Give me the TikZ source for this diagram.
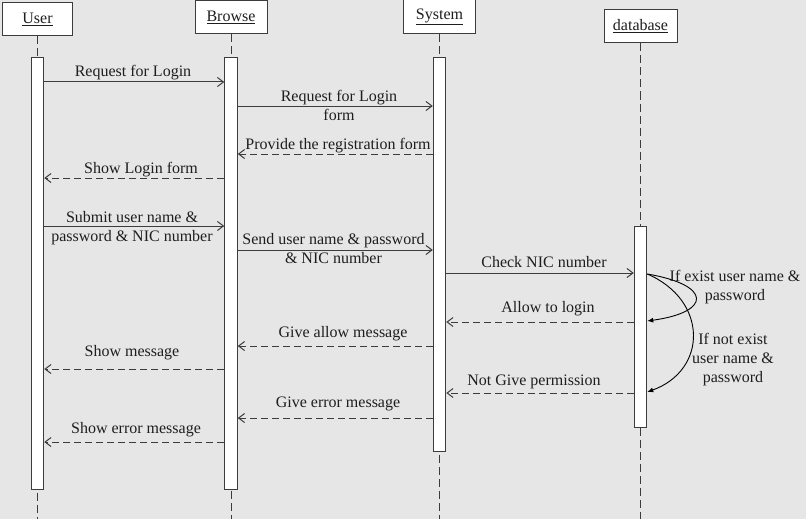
\documentclass[tikz,border=0pt]{standalone}
\usepackage{fontspec}
\setmainfont{Liberation Serif}
\usetikzlibrary{arrows.meta}
\definecolor{bg}{HTML}{E6E6E6}
\definecolor{ln}{HTML}{3C3C3C}
\definecolor{tx}{HTML}{1E1E1E}
\tikzset{
  head/.style={draw=ln, fill=white, line width=1pt, inner sep=0pt, minimum height=33pt, text=tx, font=\fontsize{16}{19}\selectfont},
  bar/.style={draw=ln, fill=white, line width=1pt, inner sep=0pt, minimum width=12.5pt},
  life/.style={draw=ln, line width=1pt, dash pattern=on 8pt off 4pt},
  msg/.style={draw=ln, line width=1pt, -{Straight Barb[length=6pt,width=9pt]}},
  reply/.style={msg, dash pattern=on 7pt off 4pt},
  selfarc/.style={draw=black, line width=0.9pt, -{Latex[length=6pt,width=5pt]}},
  lab/.style={anchor=base, inner sep=0pt, text=tx, font=\fontsize{16}{19}\selectfont, align=center},
}
\begin{document}
\begin{tikzpicture}[x=1pt, y=-1pt]
\fill[bg] (0,0) rectangle (806,519);
\useasboundingbox (0,0) rectangle (806,519);

% heads
\node[head, minimum width=70pt] (u) at (37.5,19.5) {\underline{User}};
\node[head, minimum width=72pt] (b) at (231,17.5) {\underline{Browse}};
\node[head, minimum width=72pt, minimum height=34pt] (s) at (439.5,17) {\underline{System}};
\node[head, minimum width=73pt] (d) at (640.5,26.5) {\underline{database}};

% lifelines
\draw[life] (u.south) -- (u.south |- 0,519);
\draw[life] (b.south) -- (b.south |- 0,519);
\draw[life] (s.south) -- (s.south |- 0,519);
\draw[life] (d.south) -- (d.south |- 0,519);

% activation bars
\node[bar, minimum height=431pt] (barU) at (37.5,273.5) {};
\node[bar, minimum height=431pt] (barB) at (231,273.5) {};
\node[bar, minimum height=393pt] (barS) at (439.5,254.5) {};
\node[bar, minimum height=201pt] (barD) at (640.5,326.5) {};

% messages
\draw[msg] (barU.east |- 0,82) -- (barB.west |- 0,82);
\node[lab] (l1) at (133,77) {Request for Login};

\draw[msg] (barB.east |- 0,106) -- (barS.west |- 0,106);
\node[lab] (l2) at (339,120) {Request for Login\\form};

\draw[reply] (barS.west |- 0,154) -- (barB.east |- 0,154);
\node[lab] (l3) at (338,149) {Provide the registration form};

\draw[reply] (barB.west |- 0,178) -- (barU.east |- 0,178);
\node[lab] (l4) at (141,173) {Show Login form};

\draw[msg] (barU.east |- 0,226) -- (barB.west |- 0,226);
\node[lab] (l5) at (132,241) {Submit user name \&\\password \& NIC number};

\draw[msg] (barB.east |- 0,250) -- (barS.west |- 0,250);
\node[lab] (l6) at (333.5,263) {Send user name \& password\\\& NIC number};

\draw[msg] (barS.east |- 0,273) -- (barD.west |- 0,273);
\node[lab] (l7) at (544,267) {Check NIC number};

\draw[reply] (barD.west |- 0,322) -- (barS.east |- 0,322);
\node[lab] (l8) at (548,312) {Allow to login};

\draw[reply] (barS.west |- 0,346) -- (barB.east |- 0,346);
\node[lab] (l9) at (343,337) {Give allow message};

\draw[reply] (barB.west |- 0,369) -- (barU.east |- 0,369);
\node[lab] (l10) at (132,356) {Show message};

\draw[reply] (barD.west |- 0,393) -- (barS.east |- 0,393);
\node[lab] (l11) at (534,385) {Not Give permission};

\draw[reply] (barS.west |- 0,418) -- (barB.east |- 0,418);
\node[lab] (l12) at (338,407) {Give error message};

\draw[reply] (barB.west |- 0,442) -- (barU.east |- 0,442);
\node[lab] (l13) at (136,433) {Show error message};

% self decisions
\draw[selfarc] (barD.east |- 0,274) .. controls (712,285) and (712,312) .. (barD.east |- 0,321);
\draw[selfarc] (barD.east |- 0,274) .. controls (708,300) and (708,370) .. (barD.east |- 0,392);
\node[lab] (c1) at (735,300) {If exist user name \&\\password};
\node[lab] (c2) at (733,382) {If not exist\\user name \&\\password};
\end{tikzpicture}
\end{document}
